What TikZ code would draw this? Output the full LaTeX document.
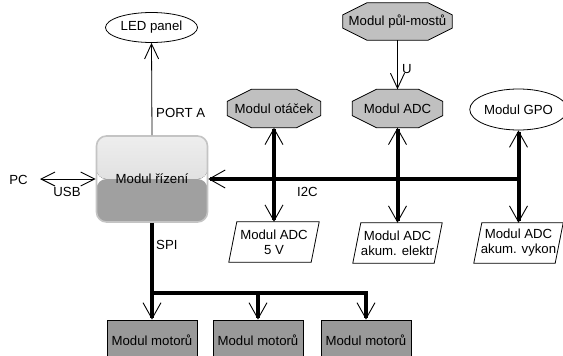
\documentclass[tikz,border=0pt]{standalone}
\usepackage{fontspec}
\setmainfont{Liberation Sans}
\usetikzlibrary{arrows.meta,shapes.geometric,backgrounds}
\definecolor{octfill}{HTML}{C0C0C0}
\definecolor{motfill}{HTML}{999999}
\definecolor{rizlow}{HTML}{A0A0A0}
\definecolor{riztop}{HTML}{EEEEEE}
\definecolor{rizmid}{HTML}{D4D4D4}
\definecolor{rizborder}{HTML}{C4C4C4}
\tikzset{
  every node/.style={font=\fontsize{13.2pt}{15pt}\selectfont, inner sep=0pt},
  thinl/.style={line width=0.8pt},
  bus/.style={line width=4pt},
  arr/.style={-{Straight Barb[length=15pt,width=14pt,line width=0.9pt]}},
  darr/.style={{Straight Barb[length=14pt,width=14pt,line width=0.9pt]}-{Straight Barb[length=14pt,width=14pt,line width=0.9pt]}},
  barr/.style={-{Straight Barb[length=16pt,width=18pt,line width=0.9pt]}},
  bdarr/.style={{Straight Barb[length=16pt,width=18pt,line width=0.9pt]}-{Straight Barb[length=16pt,width=18pt,line width=0.9pt]}},
  ellbox/.style={ellipse, draw, line width=0.8pt, fill=white},
  octbox/.style={rectangle},
  parabox/.style={rectangle, align=center},
  motbox/.style={rectangle, draw, line width=0.8pt, fill=motfill, minimum width=90pt, minimum height=40pt},
  lbl/.style={anchor=west},
}
\newcommand\octshape[1]{\filldraw[fill=octfill, line width=0.8pt] ([xshift=24pt]#1.north west) -- ([xshift=-24pt]#1.north east) -- ([yshift=-12pt]#1.north east) -- ([yshift=12pt]#1.south east) -- ([xshift=-24pt]#1.south east) -- ([xshift=24pt]#1.south west) -- ([yshift=12pt]#1.south west) -- ([yshift=-12pt]#1.north west) -- cycle;}
\newcommand\paralshape[1]{\filldraw[fill=white, line width=0.8pt] ([xshift=4pt]#1.north west) -- ([xshift=4pt]#1.north east) -- ([xshift=-4pt]#1.south east) -- ([xshift=-4pt]#1.south west) -- cycle;}
\begin{document}
\begin{tikzpicture}[x=1pt, y=-1pt]
\path[use as bounding box] (0,0) rectangle (563,356);
\clip (0,0) rectangle (563,356);

% nodes
\node[ellbox, minimum width=92pt, minimum height=30pt] (led) at (151.5,27.5) {LED panel};
\node[rectangle, rounded corners=10pt, draw=rizborder, line width=1.6pt, minimum width=111pt, minimum height=86pt,
  path picture={
    \fill[top color=riztop, bottom color=rizmid] (path picture bounding box.north west) rectangle (path picture bounding box.east);
    \fill[rizlow] (path picture bounding box.west) rectangle (path picture bounding box.south east);
  }] (rizeni) at (152,179) {};
\node at (rizeni) {Modul řízení};

\node[octbox, minimum width=93pt, minimum height=38pt] (otac) at (274,108.5) {Modul otáček};
\node[octbox, minimum width=90pt, minimum height=38pt] (adc) at (397.5,108.5) {Modul ADC};
\node[octbox, minimum width=109pt, minimum height=37pt] (pm) at (397.5,21.5) {Modul půl-mostů};
\node[ellbox, minimum width=89pt, minimum height=41pt] (gpo) at (518.5,109.5) {Modul GPO};

\node[parabox, minimum width=82pt, minimum height=40pt] (adc5) at (274,242) {Modul ADC\\5 V};
\node[parabox, minimum width=81pt, minimum height=40pt] (elektr) at (397.5,243) {Modul ADC\\akum. elektr};
\node[parabox, minimum width=81pt, minimum height=40pt] (vykon) at (518.5,243) {Modul ADC\\akum. vykon};

\node[motbox] (m1) at (152,340) {Modul motorů};
\node[motbox] (m2) at (258,340) {Modul motorů};
\node[motbox] (m3) at (366,340) {Modul motorů};

\node (pc) at (18.5,180) {PC};

\begin{scope}[on background layer]
  \fill[white] (0,0) rectangle (563,356);
  \octshape{otac}
  \octshape{adc}
  \octshape{pm}
  \paralshape{adc5}
  \paralshape{elektr}
  \paralshape{vykon}
\end{scope}

% labels
\node[lbl] (portA) at (156,113) {PORT A};
\node[lbl] (spiL) at (156,245) {SPI};
\node[lbl] (i2cL) at (297,192) {I2C};
\node[lbl] (uL) at (402,69) {U};
\node (usbL) at (67,192) {USB};

% connectors
\draw[thinl, arr] (rizeni.north) -- (led.south);
\draw[thinl, arr] (pm.south) -- (adc.north);
\coordinate (usbEnd) at (40,179);
\draw[thinl, darr] (usbEnd) -- (rizeni.west);

\coordinate (busR) at (518.5,179);
\draw[bus, barr] (busR) -- (rizeni.east);
\draw[bus, bdarr] (otac.south) -- (adc5.north);
\draw[bus, bdarr] (adc.south) -- (elektr.north);
\draw[bus, bdarr] (gpo.south) -- (vykon.north);

\coordinate (spiJ) at (152,293);
\draw[bus, barr] (rizeni.south) -- (m1.north);
\draw[bus, barr] (spiJ) -| (m3.north);
\draw[bus, barr] (spiJ -| m2.north) -- (m2.north);
\end{tikzpicture}
\end{document}
